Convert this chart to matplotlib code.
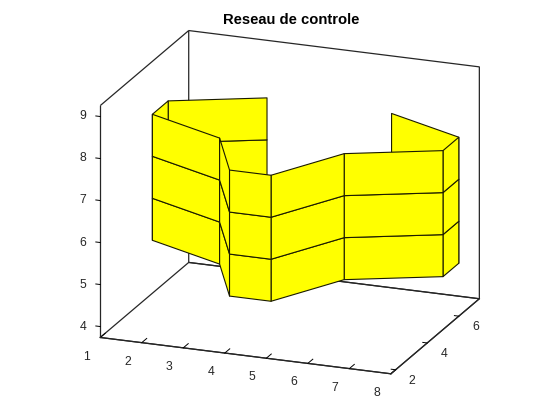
import numpy as np
import matplotlib
matplotlib.use('Agg')
import matplotlib.pyplot as plt
from mpl_toolkits.mplot3d import proj3d

plt.rcParams['font.family'] = ['Liberation Sans', 'DejaVu Sans']

# control net, one entry per column of the grid
net_x = [3, 1, 1, 3, 4, 5, 6, 8, 8, 6]
net_y = [7, 6, 5, 4, 2, 2, 4, 5, 6, 7]
net_z = [5, 6, 7, 8]

x_ticks = [1, 2, 3, 4, 5, 6, 7, 8]
y_ticks = [2, 4, 6]
z_ticks = [4, 5, 6, 7, 8, 9]
x_lim = (1, 8)
y_lim = (1.7, 7.3)
z_lim = (3.74, 9.26)

dark = '#262626'

X = np.tile(net_x, (len(net_z), 1))
Y = np.tile(net_y, (len(net_z), 1))
Z = np.tile(np.array(net_z)[:, None], (1, len(net_x)))

fig = plt.figure(figsize=(5.6, 4.2), dpi=100)
ax = fig.add_axes([0.041, 0.038, 0.934, 0.936], projection='3d')
ax.set_proj_type('ortho')
ax.view_init(elev=19, azim=-69)
ax.set_box_aspect((6.944, 5.507, 5.47), zoom=1.153)

ax.plot_surface(X, Y, Z, rstride=1, cstride=1, color='#ffff00', shade=False,
                edgecolor='#1a1a00', linewidth=0.8, antialiased=True)

ax.set_xlim(*x_lim, view_margin=0)
ax.set_ylim(*y_lim, view_margin=0)
ax.set_zlim(*z_lim, view_margin=0)
ax.set_xticks(x_ticks)
ax.set_yticks(y_ticks)
ax.set_zticks(z_ticks)
ax.tick_params(labelbottom=False, labelleft=False, label1On=False, label2On=False)
ax.grid(False)
ax.zaxis.set_ticks_position('lower')
ax.zaxis.set_label_position('lower')
# matlab puts the z ticks along x
ax.zaxis._get_tickdir = lambda pos: 0

for axis, tick_len in ((ax.xaxis, 0.7), (ax.yaxis, 0.19), (ax.zaxis, 0.19)):
    axis.pane.fill = False
    axis.pane.set_alpha(1)
    axis.pane.set_edgecolor(dark)
    axis.pane.set_linewidth(0.9)
    axis.line.set_color(dark)
    axis.line.set_linewidth(0.9)
    axis.set_major_formatter(matplotlib.ticker.NullFormatter())
    axis._axinfo['tick']['inward_factor'] = 0.0
    axis._axinfo['tick']['outward_factor'] = tick_len
    axis._axinfo['tick']['linewidth'] = {True: 0.7, False: 0.7}
    axis._axinfo['tick']['color'] = dark


def tick_text(x, y, z, s):
    # project by hand so the label is a plain 2d text in the axes
    px, py, _ = proj3d.proj_transform(x, y, z, ax.get_proj())
    ax.text2D(px, py, s, transform=ax.transData, ha='center', va='center',
              fontsize=8.8, color=dark)


# tick labels sit where matlab has them, a bit away from the ticks
for t in x_ticks:
    tick_text(t, y_lim[0] - 0.89, z_lim[0] - 0.17, str(t))
for t in y_ticks:
    tick_text(x_lim[1] + 0.40, t, z_lim[0] - 0.21, str(t))
for t in z_ticks:
    tick_text(x_lim[0] - 0.41, y_lim[0], t - 0.05, str(t))

fig.text(291 / 560, 1 - 20 / 420, 'Reseau de controle', ha='center', va='center',
         fontsize=10.6, fontweight='bold', color='black')

fig.savefig('out.png', dpi=100)
